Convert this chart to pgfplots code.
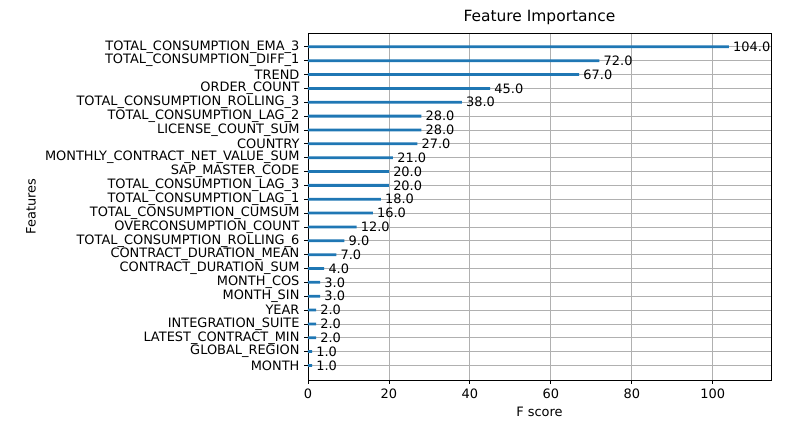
\documentclass[border=0pt]{standalone}
\usepackage{fontspec}
\setmainfont{DejaVu Sans}
\usepackage{pgfplots}
\pgfplotsset{compat=1.18}
\definecolor{barblue}{HTML}{1F77B4}
\definecolor{gridgray}{HTML}{B0B0B0}
\begin{document}
\begin{tikzpicture}
\begin{axis}[
  scale only axis, width=347.25pt, height=260.25pt,
  xmin=0, xmax=114.4, ymin=-1.05, ymax=24.0,
  xbar, bar width=0.2, bar shift=0pt,
  /pgf/number format/assume math mode=true,
  font=\fontsize{9.7pt}{11pt}\selectfont,
  ticklabel style={font=\fontsize{9.7pt}{11pt}\selectfont},
  xtick={0,20,40,60,80,100},
  ytick={0,...,23},
  yticklabels={MONTH,GLOBAL\_REGION,LATEST\_CONTRACT\_MIN,INTEGRATION\_SUITE,YEAR,MONTH\_SIN,MONTH\_COS,CONTRACT\_DURATION\_SUM,CONTRACT\_DURATION\_MEAN,TOTAL\_CONSUMPTION\_ROLLING\_6,OVERCONSUMPTION\_COUNT,TOTAL\_CONSUMPTION\_CUMSUM,TOTAL\_CONSUMPTION\_LAG\_1,TOTAL\_CONSUMPTION\_LAG\_3,SAP\_MASTER\_CODE,MONTHLY\_CONTRACT\_NET\_VALUE\_SUM,COUNTRY,LICENSE\_COUNT\_SUM,TOTAL\_CONSUMPTION\_LAG\_2,TOTAL\_CONSUMPTION\_ROLLING\_3,ORDER\_COUNT,TREND,TOTAL\_CONSUMPTION\_DIFF\_1,TOTAL\_CONSUMPTION\_EMA\_3},
  tick align=outside, xtick pos=bottom, ytick pos=left,
  major tick length=2.9pt,
  tick style={black, line width=0.6pt},
  axis line style={black, line width=0.6pt},
  grid=major,
  major grid style={gridgray, line width=0.6pt},
  title={Feature Importance},
  title style={font=\fontsize{11.6pt}{13pt}\selectfont, yshift=-3pt},
  xlabel={F score},
  ylabel={Features},
  nodes near coords,
  nodes near coords style={anchor=west, inner sep=0pt, xshift=3.04pt, black,
    font=\fontsize{9.7pt}{11pt}\selectfont,
    /pgf/number format/.cd, fixed, fixed zerofill, precision=1, assume math mode=true},
]
\addplot[fill=barblue, draw=none] coordinates {
(1,0) (1,1) (2,2) (2,3) (2,4) (3,5) (3,6) (4,7) (7,8) (9,9) (12,10) (16,11)
(18,12) (20,13) (20,14) (21,15) (27,16) (28,17) (28,18) (38,19) (45,20) (67,21) (72,22) (104,23)
};
\end{axis}
\path[use as bounding box] ([xshift=-231pt,yshift=-27.75pt]current axis.south west) rectangle ++(588.75pt,312.75pt);
\end{tikzpicture}
\end{document}
